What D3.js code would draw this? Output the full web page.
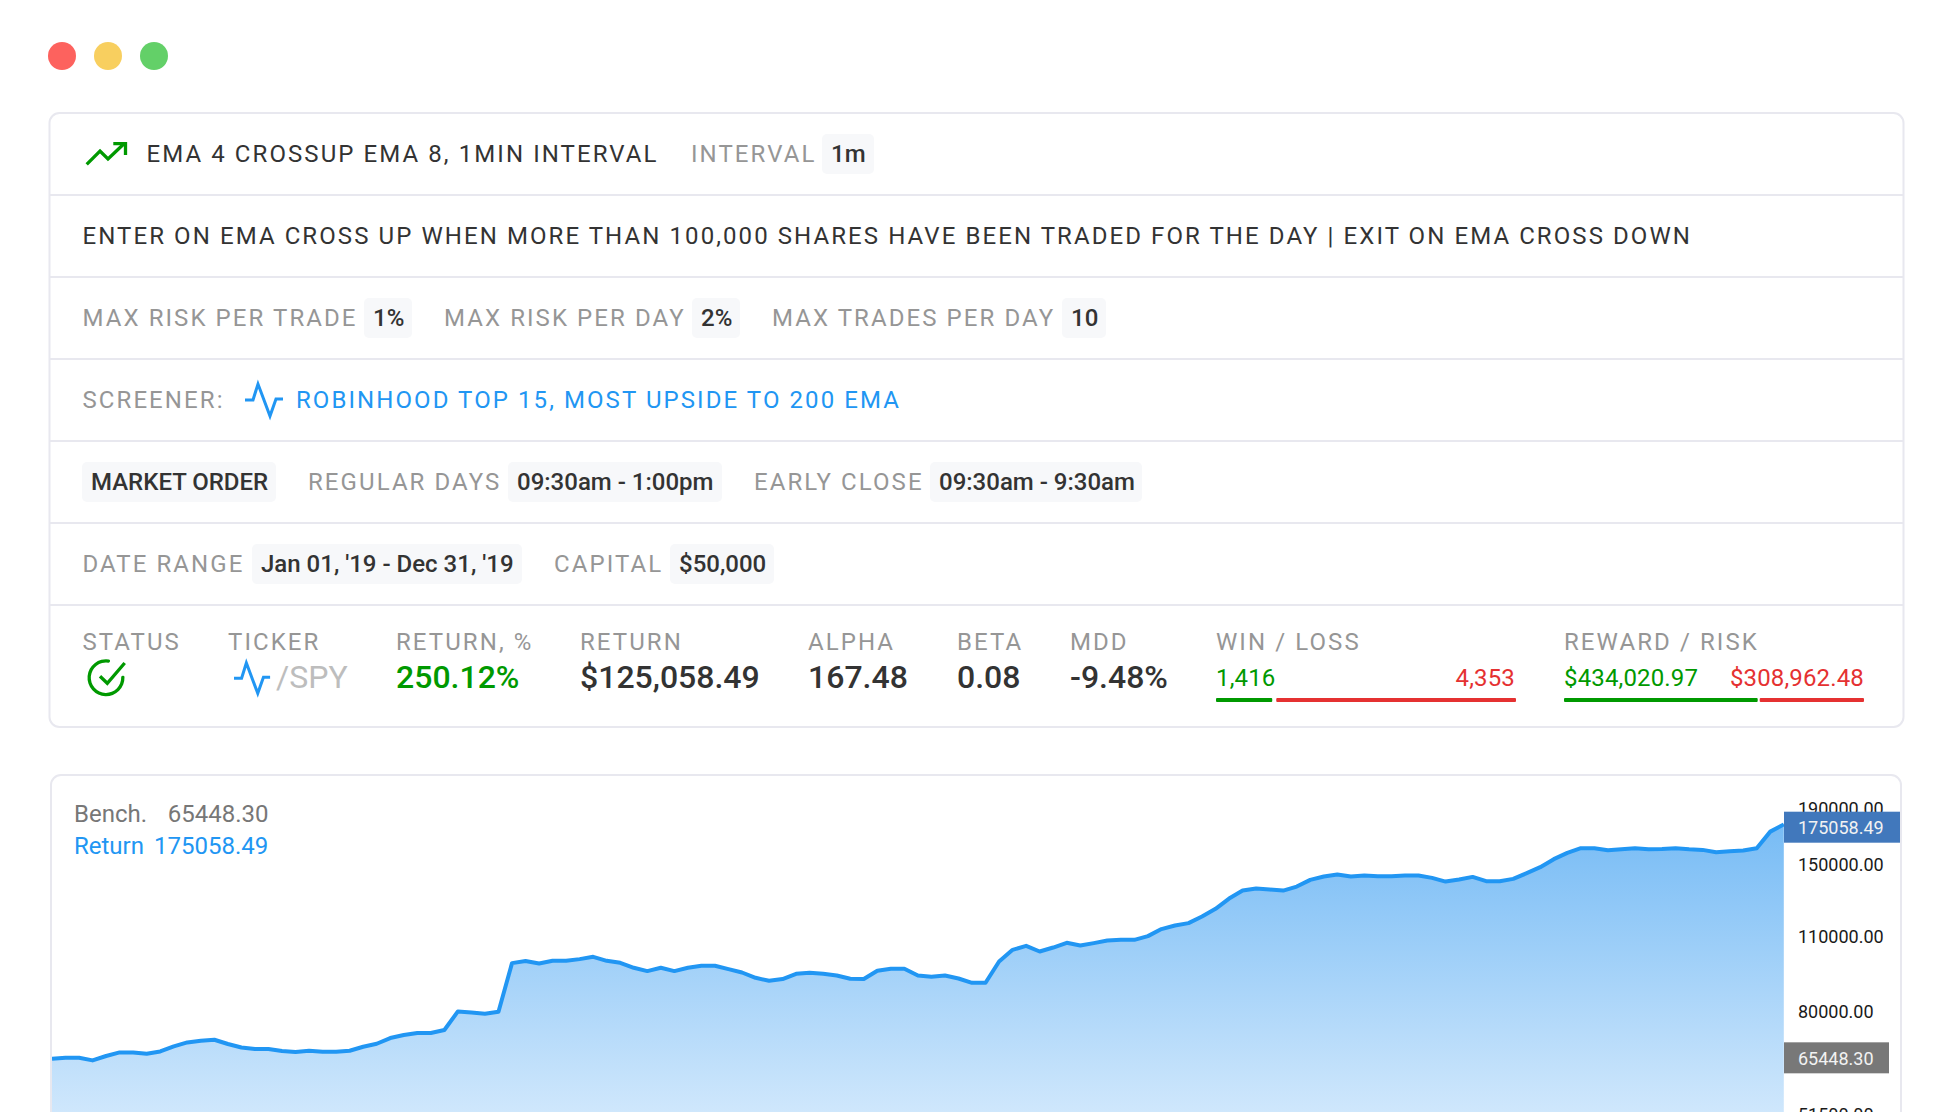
<!DOCTYPE html>
<html>
<head>
<meta charset="utf-8">
<title>Strategy report</title>
<script src="https://cdn.jsdelivr.net/npm/d3@7"></script>
<style>
  html, body { margin: 0; padding: 0; background: #fff; overflow: hidden; }
  svg { display: block; }
  text { font-family: Roboto, sans-serif; }
</style>
</head>
<body>
<svg id="page" width="1948" height="1112"></svg>
<script>
// header texts
const titleText = 'EMA 4 CROSSUP EMA 8, 1MIN INTERVAL'
const intervalValue = '1m'
const ruleText = 'ENTER ON EMA CROSS UP WHEN MORE THAN 100,000 SHARES HAVE BEEN TRADED FOR THE DAY | EXIT ON EMA CROSS DOWN'
const riskLabels = ['MAX RISK PER TRADE', 'MAX RISK PER DAY', 'MAX TRADES PER DAY']
const riskValues = ['1%', '2%', '10']
const screenerText = 'ROBINHOOD TOP 15, MOST UPSIDE TO 200 EMA'

// bottom stats row
const statLabels = ['STATUS', 'TICKER', 'RETURN, %', 'RETURN', 'ALPHA', 'BETA', 'MDD', 'WIN / LOSS', 'REWARD / RISK']
const winLoss = ['1,416', '4,353']
const rewardRisk = ['$434,020.97', '$308,962.48']
const winLossShare = [0.19, 0.81]
const rewardRiskShare = [0.65, 0.35]

// chart
const axisTicks = [190000, 150000, 110000, 80000, 51500]
const lastReturn = 175058.49
const lastBench = 65448.30
const returnSeries = [
  65200, 65480, 65480, 64730, 65960, 66980, 66980, 66600, 67260, 68700,
  69890, 70400, 70700, 69420, 68410, 67950, 67950, 67380, 67090, 67460,
  67170, 67170, 67460, 68620, 69500, 71210, 72130, 72750, 72750, 73680,
  79780, 79430, 78990, 79670, 98030, 98880, 97870, 99000, 99000, 99720,
  100700, 99000, 98160, 96090, 94750, 96090, 94750, 96090, 96910, 96910,
  95560, 94180, 92080, 90900, 91580, 93660, 94060, 93660, 92990, 91690,
  91580, 94870, 95680, 95680, 92990, 92470, 92990, 91810, 90140, 90140,
  98710, 103750, 105530, 103000, 104770, 106890, 105670, 106750, 107950, 108260,
  108260, 109990, 113340, 115080, 116270, 119580, 123570, 129110, 133590, 134730,
  134160, 133590, 135890, 139820, 141820, 143030, 141820, 142420, 142060, 142060,
  142420, 142420, 141020, 138820, 140010, 141620, 139040, 139040, 140420, 143890,
  147600, 152730, 156880, 160050, 160050, 158700, 159370, 160050, 159370, 159580,
  160050, 159370, 158900, 157350, 158020, 158430, 160050, 171790, 177130
]

const GREEN = '#009900'
const RED = '#E53131'
const BLUE = '#2196F3'
const GREY = '#969696'
const DARK = '#333333'
const BORDER = '#E8E8EF'
const PILL = '#F7F8FA'

const svg = d3.select('#page')

function label(x, y, str, opts = {}) {
  return svg.append('text')
    .attr('x', x)
    .attr('y', y)
    .attr('dy', '.355em')
    .attr('text-anchor', opts.anchor || 'start')
    .attr('font-size', opts.size || 24)
    .attr('font-weight', opts.weight || 400)
    .attr('letter-spacing', opts.ls === undefined ? 2.08 : opts.ls)
    .attr('fill', opts.fill || GREY)
    .text(str)
}

function pill(x0, x1, cy, str) {
  svg.append('rect')
    .attr('x', x0).attr('y', cy - 20)
    .attr('width', x1 - x0).attr('height', 40)
    .attr('rx', 5)
    .attr('fill', PILL)
  label(x0 + 9, cy - 0.5, str, { fill: DARK, ls: 0, weight: 500 })
}

function pulse(x, y, k) {
  const pts = [[0, 17], [8, 17], [13, 1], [25, 33], [31, 16], [38, 16]]
  svg.append('path')
    .attr('transform', `translate(${x},${y}) scale(${k})`)
    .attr('d', d3.line()(pts))
    .attr('fill', 'none')
    .attr('stroke', BLUE)
    .attr('stroke-width', 3 / k)
}

// window buttons
;['#FD625E', '#F8CF5F', '#63D068'].forEach((c, i) => {
  svg.append('circle').attr('cx', 62 + i * 46).attr('cy', 56).attr('r', 14).attr('fill', c)
})

// top card
svg.append('rect')
  .attr('x', 49.5).attr('y', 113)
  .attr('width', 1854).attr('height', 614)
  .attr('rx', 10)
  .attr('fill', '#fff')
  .attr('stroke', BORDER)
  .attr('stroke-width', 2)

;[195, 277, 359, 441, 523, 605].forEach(y => {
  svg.append('line')
    .attr('x1', 50).attr('x2', 1903)
    .attr('y1', y).attr('y2', y)
    .attr('stroke', BORDER)
    .attr('stroke-width', 2)
})

// row 1
svg.append('path')
  .attr('d', d3.line()([[86.7, 164.3], [100, 151], [108, 159], [124, 143.7]]))
  .attr('fill', 'none').attr('stroke', GREEN).attr('stroke-width', 3.3)
svg.append('path')
  .attr('d', d3.line()([[113.3, 143.7], [125.5, 143.7], [125.5, 155]]))
  .attr('fill', 'none').attr('stroke', GREEN).attr('stroke-width', 3.3)
label(146.5, 153.5, titleText, { fill: DARK })
label(691, 153.5, 'INTERVAL')
pill(822, 874, 154, intervalValue)

// row 2
label(82.5, 235.5, ruleText, { fill: DARK })

// row 3
label(82.5, 317.5, riskLabels[0])
pill(364, 412, 318, riskValues[0])
label(444, 317.5, riskLabels[1])
pill(692, 740, 318, riskValues[1])
label(772, 317.5, riskLabels[2])
pill(1062, 1106, 318, riskValues[2])

// row 4
label(82.5, 399.5, 'SCREENER:')
pulse(245, 383, 1)
label(296, 399.5, screenerText, { fill: BLUE })

// row 5
pill(82, 276, 482, 'MARKET ORDER')
label(308, 481.5, 'REGULAR DAYS')
pill(508, 722, 482, '09:30am - 1:00pm')
label(754, 481.5, 'EARLY CLOSE')
pill(930, 1142, 482, '09:30am - 9:30am')

// row 6
label(82.5, 563.5, 'DATE RANGE')
pill(252, 522, 564, "Jan 01, '19 - Dec 31, '19")
label(554, 563.5, 'CAPITAL')
pill(670, 774, 564, '$50,000')

// stats row
const statX = [82.5, 228, 396, 580, 808, 957, 1070, 1216, 1564]
statLabels.forEach((s, i) => label(statX[i], 641.5, s))

const check = d3.arc().innerRadius(15.2).outerRadius(18.5).cornerRadius(1.5).startAngle(1.45).endAngle(Math.PI * 2 + 0.24)
svg.append('path').attr('transform', 'translate(106,677.7)').attr('d', check()).attr('fill', GREEN)
svg.append('path')
  .attr('d', d3.line()([[100, 676.3], [107.3, 683.3], [124.7, 663]]))
  .attr('fill', 'none').attr('stroke', GREEN).attr('stroke-width', 3.3)

pulse(234, 662, 0.95)
label(276, 677, '/SPY', { size: 32, fill: '#BDBDBD', ls: 0 })
label(396, 677, '250.12%', { size: 32, fill: GREEN, ls: 0, weight: 500 })
label(580, 677, '$125,058.49', { size: 32, fill: DARK, ls: 0, weight: 500 })
label(808, 677, '167.48', { size: 32, fill: DARK, ls: 0, weight: 500 })
label(957, 677, '0.08', { size: 32, fill: DARK, ls: 0, weight: 500 })
label(1070, 677, '-9.48%', { size: 32, fill: DARK, ls: 0, weight: 500 })

function splitBar(x0, x1, shares, gap) {
  const w = d3.scaleLinear().domain([0, 1]).range([0, x1 - x0 - gap])
  svg.append('rect').attr('x', x0).attr('y', 698).attr('width', w(shares[0])).attr('height', 4).attr('rx', 1).attr('fill', GREEN)
  svg.append('rect').attr('x', x0 + w(shares[0]) + gap).attr('y', 698).attr('width', w(shares[1])).attr('height', 4).attr('rx', 1).attr('fill', RED)
}
label(1216, 677.5, winLoss[0], { size: 24, fill: GREEN, ls: 0.15 })
label(1515, 677.5, winLoss[1], { size: 24, fill: RED, ls: 0.15, anchor: 'end' })
splitBar(1216, 1516, winLossShare, 4)
label(1564, 677.5, rewardRisk[0], { size: 24, fill: GREEN, ls: 0.15 })
label(1864, 677.5, rewardRisk[1], { size: 24, fill: RED, ls: 0.15, anchor: 'end' })
splitBar(1564, 1864, rewardRiskShare, 2)

// chart card
svg.append('rect')
  .attr('x', 51).attr('y', 775)
  .attr('width', 1850).attr('height', 364)
  .attr('rx', 10)
  .attr('fill', '#fff')
  .attr('stroke', BORDER)
  .attr('stroke-width', 2)

label(74, 813.5, 'Bench.', { fill: '#777', ls: 0 })
label(167.7, 813.5, lastBench.toFixed(2), { fill: '#777', ls: 0 })
label(74, 845.5, 'Return', { fill: BLUE, ls: 0 })
label(154, 845.5, lastReturn.toFixed(2), { fill: BLUE, ls: 0 })

const x = d3.scaleLinear().domain([0, returnSeries.length - 1]).range([52, 1783.8])
const y = d3.scaleLog().domain([51500, 190000]).range([1114, 808])

const defs = svg.append('defs')
const grad = defs.append('linearGradient')
  .attr('id', 'fillGrad')
  .attr('gradientUnits', 'userSpaceOnUse')
  .attr('x1', 0).attr('x2', 0)
  .attr('y1', y(175058)).attr('y2', 1112)
grad.append('stop').attr('offset', 0).attr('stop-color', '#78BCF5')
grad.append('stop').attr('offset', 1).attr('stop-color', '#CFE7FC')
defs.append('clipPath').attr('id', 'plotClip').append('rect')
  .attr('x', 52).attr('y', 780).attr('width', 1732).attr('height', 340)

const plot = svg.append('g').attr('clip-path', 'url(#plotClip)')
plot.append('path')
  .attr('d', d3.area().x((d, i) => x(i)).y0(1120).y1(d => y(d))(returnSeries))
  .attr('fill', 'url(#fillGrad)')
plot.append('path')
  .attr('d', d3.line().x((d, i) => x(i)).y(d => y(d))(returnSeries))
  .attr('fill', 'none')
  .attr('stroke', BLUE)
  .attr('stroke-width', 4)
  .attr('stroke-linejoin', 'round')

const axis = svg.append('g')
  .attr('transform', 'translate(1784,0)')
  .call(d3.axisRight(y).tickValues(axisTicks).tickSize(0).tickPadding(14).tickFormat(d => d.toFixed(2)))
axis.select('.domain').remove()
axis.selectAll('text')
  .attr('dy', '.38em')
  .attr('font-family', '"Noto Sans", sans-serif')
  .attr('font-size', 18)
  .attr('fill', '#1a1a1a')

function priceTag(value, x1, color) {
  const cy = y(value)
  svg.append('rect')
    .attr('x', 1784).attr('y', cy - 15.5)
    .attr('width', x1 - 1784).attr('height', 31)
    .attr('fill', color)
  svg.append('text')
    .attr('x', 1798).attr('y', cy).attr('dy', '.38em')
    .attr('font-family', '"Noto Sans", sans-serif')
    .attr('font-size', 18)
    .attr('fill', '#f2f2f2')
    .text(value.toFixed(2))
}
priceTag(lastReturn, 1900, '#4178BC')
priceTag(lastBench, 1889, '#787878')
</script>
</body>
</html>
